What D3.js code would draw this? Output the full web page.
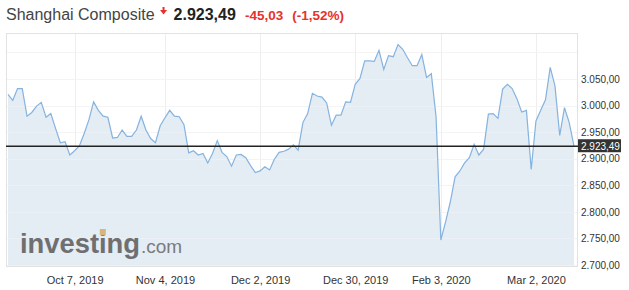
<!DOCTYPE html>
<html>
<head>
<meta charset="utf-8">
<script src="https://cdnjs.cloudflare.com/ajax/libs/d3/7.8.5/d3.min.js"></script>
<style>
  body { margin: 0; background: #fff; }
  svg { display: block; font-family: "Liberation Sans", Arial, sans-serif; }
</style>
</head>
<body>
<div id="chart"></div>
<script>
// trading days, Sep 10 2019 .. Mar 12 2020
var dates = [
  "2019-09-10","2019-09-11","2019-09-12","2019-09-16","2019-09-17","2019-09-18","2019-09-19","2019-09-20",
  "2019-09-23","2019-09-24","2019-09-25","2019-09-26","2019-09-27","2019-09-30",
  "2019-10-08","2019-10-09","2019-10-10","2019-10-11","2019-10-14","2019-10-15","2019-10-16","2019-10-17",
  "2019-10-18","2019-10-21","2019-10-22","2019-10-23","2019-10-24","2019-10-25","2019-10-28","2019-10-29",
  "2019-10-30","2019-10-31",
  "2019-11-01","2019-11-04","2019-11-05","2019-11-06","2019-11-07","2019-11-08","2019-11-11","2019-11-12",
  "2019-11-13","2019-11-14","2019-11-15","2019-11-18","2019-11-19","2019-11-20","2019-11-21","2019-11-22",
  "2019-11-25","2019-11-26","2019-11-27","2019-11-28","2019-11-29",
  "2019-12-02","2019-12-03","2019-12-04","2019-12-05","2019-12-06","2019-12-09","2019-12-10","2019-12-11",
  "2019-12-12","2019-12-13","2019-12-16","2019-12-17","2019-12-18","2019-12-19","2019-12-20","2019-12-23",
  "2019-12-24","2019-12-25","2019-12-26","2019-12-27","2019-12-30","2019-12-31",
  "2020-01-02","2020-01-03","2020-01-06","2020-01-07","2020-01-08","2020-01-09","2020-01-10","2020-01-13",
  "2020-01-14","2020-01-15","2020-01-16","2020-01-17","2020-01-20","2020-01-21","2020-01-22","2020-01-23",
  "2020-02-03","2020-02-04","2020-02-05","2020-02-06","2020-02-07","2020-02-10","2020-02-11","2020-02-12",
  "2020-02-13","2020-02-14","2020-02-17","2020-02-18","2020-02-19","2020-02-20","2020-02-21","2020-02-24",
  "2020-02-25","2020-02-26","2020-02-27","2020-02-28",
  "2020-03-02","2020-03-03","2020-03-04","2020-03-05","2020-03-06","2020-03-09","2020-03-10","2020-03-11",
  "2020-03-12"
];

var closes = [
  3021, 3010, 3032, 3032, 2980, 2987, 2999, 3006, 2978, 2985, 2957, 2930, 2932, 2907,
  2915, 2924, 2947, 2973, 3007, 2991, 2980, 2978, 2939, 2940, 2954, 2942, 2942, 2954, 2980, 2954,
  2938, 2930,
  2962, 2977, 2991, 2980, 2979, 2964, 2911, 2915, 2907, 2910, 2892, 2910, 2934, 2912, 2904, 2886,
  2907, 2908, 2902, 2887, 2874,
  2877, 2885, 2879, 2899, 2912, 2914, 2918, 2926, 2916, 2968, 2985, 3023, 3018, 3016, 3005, 2963,
  2982, 2982, 3007, 3006, 3040, 3051,
  3084, 3084, 3083, 3104, 3068, 3094, 3092, 3115, 3106, 3090, 3075, 3075, 3096, 3053, 3060, 2979,
  2747, 2781, 2819, 2866, 2877, 2892, 2902, 2927, 2907, 2918, 2984, 2985, 2976, 3031, 3040, 3032,
  3013, 2988, 2991, 2880,
  2971, 2991, 3011, 3072, 3037, 2944, 2996, 2968, 2923.49
];

var tickDates = ["2019-10-08", "2019-11-04", "2019-12-02", "2019-12-30", "2020-02-03", "2020-03-02"];
var tickLabels = ["Oct 7, 2019", "Nov 4, 2019", "Dec 2, 2019", "Dec 30, 2019", "Feb 3, 2020", "Mar 2, 2020"];
var yTicks = [2700, 2750, 2800, 2850, 2900, 2950, 3000, 3050];
var yGrid = [2700, 2750, 2800, 2850, 2900, 2950, 3000, 3050, 3100];

var title = "Shanghai Composite";
var lastPrice = 2923.49;
var change = -45.03;
var changePct = -1.52;

var width = 629, height = 290;
var plot = { left: 6, right: 577, top: 33, bottom: 266 };

var locale = d3.formatLocale({ decimal: ",", thousands: ".", grouping: [3], currency: ["", ""], minus: "-" });
var fmt = locale.format(",.2f");

var svg = d3.select("#chart").append("svg")
    .attr("width", width)
    .attr("height", height);

// SCALES
var x = d3.scalePoint()
    .domain(dates)
    .range([8, 574]);

var y = d3.scaleLinear()
    .domain([2700, 3050])
    .range([265, 79]);

// frame + grid
svg.append("rect")
    .attr("x", plot.left + 0.5)
    .attr("y", plot.top + 0.5)
    .attr("width", plot.right - plot.left)
    .attr("height", plot.bottom - plot.top)
    .attr("fill", "#fff")
    .attr("stroke", "#e2e2e2");

svg.append("g").selectAll("line").data(yGrid).enter()
    .append("line")
    .attr("x1", plot.left + 1).attr("x2", plot.right)
    .attr("y1", (d) => Math.round(y(d)) + 0.5)
    .attr("y2", (d) => Math.round(y(d)) + 0.5)
    .attr("stroke", "#f1f1f1");

svg.append("g").selectAll("line").data(tickDates).enter()
    .append("line")
    .attr("x1", (d) => Math.round(x(d)) + 0.5)
    .attr("x2", (d) => Math.round(x(d)) + 0.5)
    .attr("y1", plot.top + 1).attr("y2", plot.bottom)
    .attr("stroke", "#eeeeee");

// AREA + LINE
var area = d3.area()
    .x((d, i) => x(dates[i]))
    .y0(plot.bottom)
    .y1((d) => y(d));

var line = d3.line()
    .x((d, i) => x(dates[i]))
    .y((d) => y(d));

svg.append("path")
    .datum(closes)
    .attr("d", area)
    .attr("fill", "#e4ecf4");

// horizontal grid shows faintly through the fill
svg.append("g").selectAll("line").data(yGrid).enter()
    .append("line")
    .attr("x1", plot.left + 1).attr("x2", plot.right)
    .attr("y1", (d) => Math.round(y(d)) + 0.5)
    .attr("y2", (d) => Math.round(y(d)) + 0.5)
    .attr("stroke", "#ffffff")
    .attr("stroke-opacity", 0.25);

svg.append("path")
    .datum(closes)
    .attr("d", line)
    .attr("fill", "none")
    .attr("stroke", "#85b3df")
    .attr("stroke-width", 1.2);

// watermark
var wm = svg.append("text")
    .attr("x", 20)
    .attr("y", 253)
    .attr("font-size", 28)
    .attr("font-weight", "bold")
    .attr("textLength", 120)
    .attr("lengthAdjust", "spacingAndGlyphs")
    .attr("fill", "#6f6f6f")
    .text("investing");

svg.append("text")
    .attr("x", 141)
    .attr("y", 253)
    .attr("font-size", 19)
    .attr("fill", "#7b7b7b")
    .text(".com");

var ext = wm.node().getExtentOfChar(6);
svg.append("rect")
    .attr("x", ext.x + ext.width / 2 - 3)
    .attr("y", 229)
    .attr("width", 6)
    .attr("height", 6)
    .attr("fill", "#d8b57a");

// current price line
svg.append("line")
    .attr("x1", plot.left).attr("x2", plot.right + 1)
    .attr("y1", y(lastPrice)).attr("y2", y(lastPrice))
    .attr("stroke", "#222")
    .attr("stroke-width", 1.3);

// AXES
var rightAxis = d3.axisRight(y)
    .tickValues(yTicks)
    .tickSize(0)
    .tickPadding(4)
    .tickFormat(fmt);

var yAxisGroup = svg.append("g")
    .attr("transform", "translate(" + plot.right + ", 0)")
    .call(rightAxis);
yAxisGroup.select(".domain").remove();
yAxisGroup.selectAll("text")
    .attr("font-size", "10px")
    .attr("font-family", "Liberation Sans, Arial, sans-serif")
    .attr("fill", "#333");

var bottomAxis = d3.axisBottom(x)
    .tickValues(tickDates)
    .tickSize(0)
    .tickPadding(10)
    .tickFormat((d, i) => tickLabels[i]);

var xAxisGroup = svg.append("g")
    .attr("transform", "translate(0, " + plot.bottom + ")")
    .call(bottomAxis);
xAxisGroup.select(".domain").remove();
xAxisGroup.selectAll("text")
    .attr("font-size", "11px")
    .attr("font-family", "Liberation Sans, Arial, sans-serif")
    .attr("fill", "#333");

// price tag
var tag = svg.append("g")
    .attr("transform", "translate(" + (plot.right + 1) + ", " + y(lastPrice) + ")");
tag.append("rect")
    .attr("x", 0).attr("y", -7)
    .attr("width", 43).attr("height", 13)
    .attr("fill", "#333");
tag.append("text")
    .attr("x", 3).attr("y", 0)
    .attr("dy", "0.35em")
    .attr("font-size", "10px")
    .attr("fill", "#fff")
    .text(fmt(lastPrice));

// HEADER
var header = svg.append("text")
    .attr("x", 6)
    .attr("y", 20)
    .attr("font-size", "16px");

header.append("tspan")
    .attr("fill", "#444")
    .text(title);

var titleLen = header.node().getComputedTextLength();
var ax = 6 + titleLen + 9;

svg.append("path")
    .attr("d", "M" + (ax - 1) + ",7h2v3h2.5l-3.5,4.5l-3.5,-4.5h2.5z")
    .attr("fill", "#e5332a");

svg.append("text")
    .attr("x", ax + 10)
    .attr("y", 20)
    .attr("font-size", "16px")
    .attr("font-weight", "bold")
    .attr("fill", "#222")
    .text(fmt(lastPrice));

var chg = svg.append("text")
    .attr("x", 245)
    .attr("y", 20)
    .attr("font-size", "13.5px")
    .attr("font-weight", "bold")
    .attr("fill", "#e5332a");
chg.append("tspan").text(fmt(change));
chg.append("tspan").attr("dx", 9).text("(" + fmt(changePct) + "%)");
</script>
</body>
</html>
